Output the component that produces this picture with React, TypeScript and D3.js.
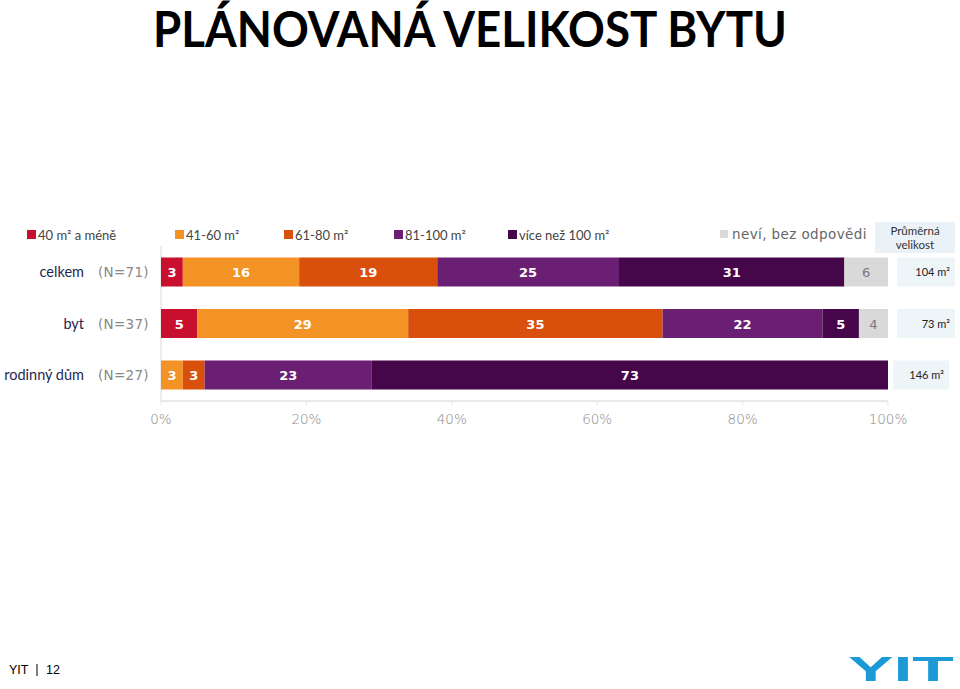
import React from "react";
import * as d3 from "d3";

const categories = ["celkem", "byt", "rodinný dům"];
const sampleLabels = ["(N=71)", "(N=37)", "(N=27)"];
const seriesNames = ["40 m² a méně", "41-60 m²", "61-80 m²", "81-100 m²", "více než 100 m²", "neví, bez odpovědi"];
const seriesKeys = ["s40", "s41", "s61", "s81", "s100", "nevi"];
const s40 = [3, 5, 0];
const s41 = [16, 29, 3];
const s61 = [19, 35, 3];
const s81 = [25, 22, 23];
const s100 = [31, 5, 73];
const nevi = [6, 4, 0];
const averages = ["104 m²", "73 m²", "146 m²"];
const ticks = [0, 20, 40, 60, 80, 100];

const colors = ["#c8102e", "#f39325", "#d9500c", "#6b1f73", "#46074a", "#d9d9d9"];
const legendX = [27, 175, 284, 394, 508, 720];

export default function App() {
  const W = 960, H = 689;
  const seriesValues = [s40, s41, s61, s81, s100, nevi];
  const rows = categories.map((c, i) => {
    const r: any = { cat: c };
    seriesKeys.forEach((k, j) => (r[k] = seriesValues[j][i]));
    return r;
  });
  const stack = d3.stack<any>().keys(seriesKeys);
  const stacked = stack(rows);
  const x = d3.scaleLinear().domain([0, 100]).range([161, 888]).clamp(true);
  const y = d3.scaleBand().domain(categories).range([257.5, 389.5]).paddingInner(0.437).paddingOuter(0);
  const bw = y.bandwidth();
  const calibri = "Lato, 'Open Sans', sans-serif";
  const verd = "'DejaVu Sans', Verdana, sans-serif";

  return (
    <svg width={W} height={H} style={{ position: "absolute", left: 0, top: 0, background: "#fff" }}>
      <text x={470} y={47} textAnchor="middle" fontFamily={calibri} fontWeight={700} fontSize={49}
        textLength={634} lengthAdjust="spacingAndGlyphs" fill="#000">PLÁNOVANÁ VELIKOST BYTU</text>

      {/* legend */}
      {seriesNames.map((n, i) => (
        <g key={n}>
          <rect x={legendX[i]} y={230} width={i === 5 ? 8 : 9} height={i === 5 ? 8 : 9} fill={colors[i]} />
          {i < 5 ? (
            <text x={legendX[i] + 11} y={239.5} fontFamily={calibri} fontSize={13} fill="#444">{n}</text>
          ) : (
            <text x={legendX[i] + 12} y={239} fontFamily={verd} fontSize={13.5} fill="#666" letterSpacing={0.4}>{n}</text>
          )}
        </g>
      ))}

      {/* average header box */}
      <rect x={875} y={222} width={80} height={31} fill="#eaf2f8" />
      <text x={915} y={235} textAnchor="middle" fontFamily={calibri} fontSize={11.5} fill="#333">Průměrná</text>
      <text x={915} y={249} textAnchor="middle" fontFamily={calibri} fontSize={11.5} fill="#333">velikost</text>

      {/* vertical axis line */}
      <line x1={161} x2={161} y1={246} y2={401} stroke="#d9d9d9" strokeWidth={1} />
      {/* bottom axis */}
      <line x1={161} x2={888} y1={401} y2={401} stroke="#e3e3e3" strokeWidth={1.5} />
      {ticks.map((t) => (
        <g key={t}>
          <line x1={x(t)} x2={x(t)} y1={401} y2={405} stroke="#e3e3e3" />
          <text x={x(t)} y={424} textAnchor="middle" fontFamily={verd} fontSize={13.5} fill="#888" fontWeight={300}>{t + "%"}</text>
        </g>
      ))}

      {/* bars */}
      {stacked.map((s, j) => (
        <g key={s.key}>
          {s.map((d, i) => {
            const v = seriesValues[j][i];
            if (!v) return null;
            const x0 = x(d[0]), x1 = x(d[1]);
            const yy = y(categories[i])!;
            return (
              <g key={i}>
                <rect x={x0} y={yy} width={x1 - x0} height={bw} fill={colors[j]} />
                <text x={(x0 + x1) / 2} y={yy + bw / 2 + 5} textAnchor="middle" fontFamily={verd}
                  fontSize={13} fontWeight={j === 5 ? 400 : 700} fill={j === 5 ? "#777" : "#fff"}>{v}</text>
              </g>
            );
          })}
        </g>
      ))}

      {/* category labels */}
      {categories.map((c, i) => {
        const cy = y(c)! + bw / 2;
        return (
          <g key={c}>
            <text x={84} y={cy + 5} textAnchor="end" fontFamily={calibri} fontSize={14.5} fill="#1f2850">{c}</text>
            <text x={98} y={cy + 5} fontFamily={verd} fontSize={13.5} fill="#888" letterSpacing={0.3}>{sampleLabels[i]}</text>
            <rect x={i === 2 ? 893 : 897} y={y(c)!} width={i === 2 ? 56 : 58} height={bw} fill="#eef5f9" />
            <text x={i === 2 ? 944 : 950} y={cy + 4} textAnchor="end" fontFamily={calibri} fontSize={11} fill="#222">{averages[i]}</text>
          </g>
        );
      })}

      {/* footer */}
      <text x={9} y={674} fontFamily="'Liberation Sans', Arial, sans-serif" fontSize={12.5} fill="#000">YIT</text>
      <line x1={37} x2={37} y1={664} y2={676} stroke="#000" strokeWidth={1} />
      <text x={46} y={674} fontFamily="'Liberation Sans', Arial, sans-serif" fontSize={12.5} fill="#000">12</text>
      <text x={901} y={681} textAnchor="middle" fontFamily="'Liberation Sans', Arial, sans-serif" fontWeight={700}
        fontSize={35} textLength={106} lengthAdjust="spacingAndGlyphs" fill="#1b9ad6">YIT</text>
    </svg>
  );
}
